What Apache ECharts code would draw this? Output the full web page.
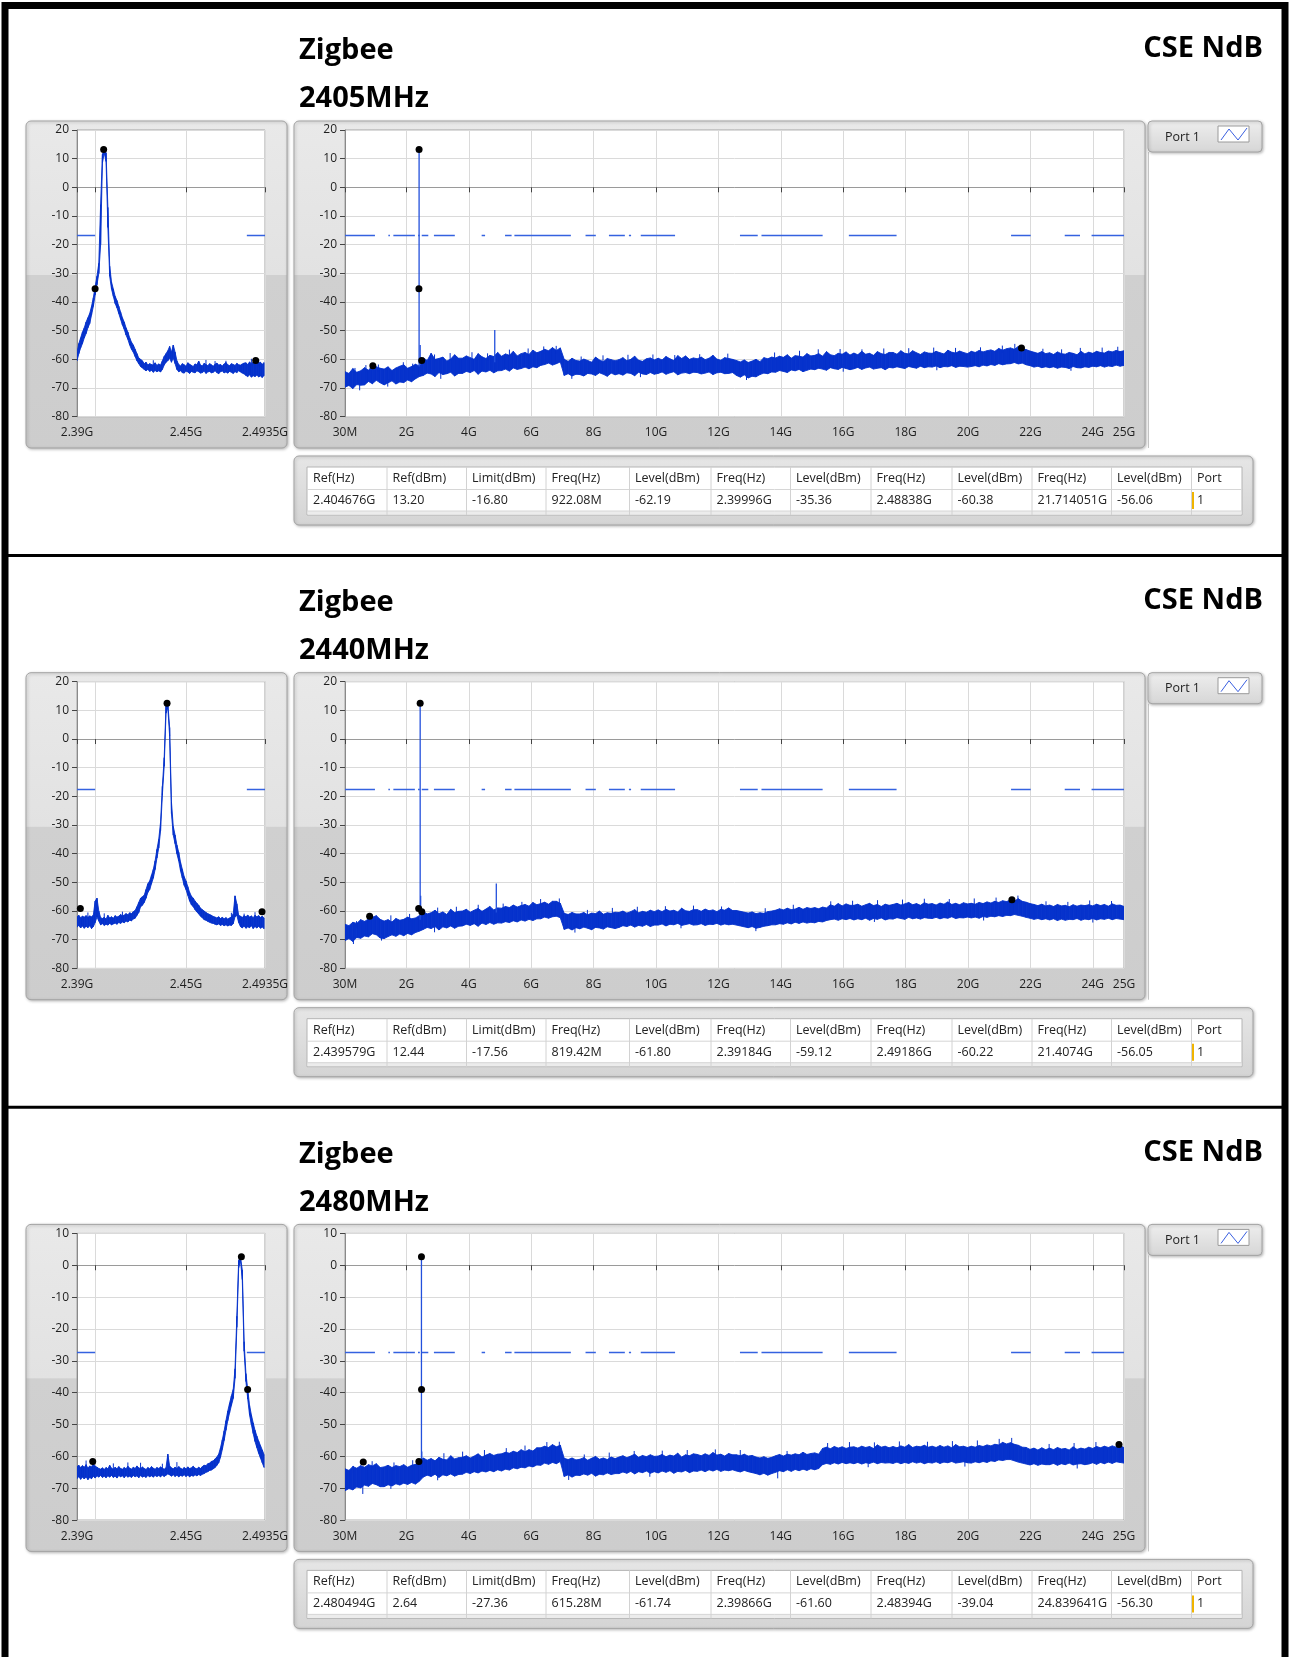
<!DOCTYPE html>
<html><head><meta charset="utf-8">
<script src="https://cdn.jsdelivr.net/npm/echarts@6/dist/echarts.min.js"></script>
<style>html,body{margin:0;padding:0;background:#fff;overflow:hidden}#c{width:1292px;height:1657px}</style>
</head><body><div id="c"></div>
<script>
// ---------------- DATA ----------------
const channelLabels = ['2405MHz', '2440MHz', '2480MHz'];
const techLabel = 'Zigbee';
const sideLabel = 'CSE NdB';
const portLabel = 'Port 1';
const limitLevels = [-16.80, -17.56, -27.36];
const yMaxes = [20, 20, 10];
const yMin = -80;

const smallTickValues = [2.39, 2.4, 2.45, 2.4935];
const smallLabelValues = [2.39, 2.45, 2.4935];
const smallLabelText = ['2.39G', '2.45G', '2.4935G'];
const mainTickValues = [0.03, 2, 4, 6, 8, 10, 12, 14, 16, 18, 20, 22, 24, 25];
const mainTickLabels = ['30M', '2G', '4G', '6G', '8G', '10G', '12G', '14G', '16G', '18G', '20G', '22G', '24G', '25G'];

const smallStartGHz = 2.39, smallStepGHz = 0.001;
const mainStartGHz = 0.03, mainStopGHz = 25;

const limitSegmentsGHz = [[0.03,0.99],[1.42,1.47],[1.58,2.27],[2.37,2.43],[2.49,2.70],[2.88,3.55],[4.41,4.52],[5.16,5.37],[5.46,7.27],[7.74,8.07],[8.49,9.0],[9.13,9.2],[9.51,10.61],[12.69,13.26],[13.38,15.34],[16.18,17.71],[21.38,22.01],[23.1,23.59],[23.96,25.0]];
const smallLimitSegmentsGHz = [[2.39, 2.4], [2.4835, 2.4935]];

const tableHeader = ['Ref(Hz)','Ref(dBm)','Limit(dBm)','Freq(Hz)','Level(dBm)','Freq(Hz)','Level(dBm)','Freq(Hz)','Level(dBm)','Freq(Hz)','Level(dBm)','Port'];
const tableRows = [
  ['2.404676G','13.20','-16.80','922.08M','-62.19','2.39996G','-35.36','2.48838G','-60.38','21.714051G','-56.06','1'],
  ['2.439579G','12.44','-17.56','819.42M','-61.80','2.39184G','-59.12','2.49186G','-60.22','21.4074G','-56.05','1'],
  ['2.480494G','2.64','-27.36','615.28M','-61.74','2.39866G','-61.60','2.48394G','-39.04','24.839641G','-56.30','1']
];

const markers1 = [[0.92208,-62.19],[2.39996,-35.36],[2.404676,13.20],[2.48838,-60.38],[21.714051,-56.06]];
const markers2 = [[0.81942,-61.80],[2.39184,-59.12],[2.439579,12.44],[2.49186,-60.22],[21.4074,-56.05]];
const markers3 = [[0.61528,-61.74],[2.39866,-61.60],[2.480494,2.64],[2.48394,-39.04],[24.839641,-56.30]];

// spikes: [freqGHz, base dBm, top dBm]
const spikes1 = [[2.405,-62.5,13.2],[2.44,-62,-55],[4.83,-61,-49.8]];
const spikes2 = [[2.4396,-63,12.44],[2.455,-62,-54.7],[4.88,-60.5,-50.4]];
const spikes3 = [[2.4805,-62,2.64],[2.49,-61,-58.5]];

// narrow noise peaks sticking out of the band: [freqGHz, dBm]
const noiseUp1 = [[0.35,-63.0],[0.7,-62.0],[1.1,-61.8],[1.9,-61.0],[2.2,-61.5],[2.9,-58.3],[3.4,-57.8],[4.1,-57.5],[4.6,-57.9],[5.3,-56.6],[5.9,-56.2],[6.4,-55.5],[6.8,-55.3],[7.6,-59.0],[8.3,-58.6],[9.1,-58.4],[9.9,-58.3],[10.6,-58.5],[11.4,-58.2],[12.3,-58.0],[13.8,-57.6],[14.6,-57.0],[15.2,-56.5],[15.9,-56.4],[16.6,-56.5],[17.3,-56.2],[18.1,-56.1],[18.9,-55.9],[19.6,-56.0],[20.4,-55.8],[21.1,-55.2],[21.5,-54.6],[22.4,-56.3],[23.0,-56.5],[23.6,-56.0],[24.3,-55.9],[24.8,-55.6]];
const noiseDown1 = [[0.5,-70.8],[1.4,-69.5],[3.1,-66.8],[7.3,-66.8],[9.5,-66.2],[12.9,-67.2],[16.0,-64.3],[19.0,-63.8],[23.3,-64.0]];
const noiseUp2 = [[0.4,-63.5],[0.8,-61.0],[1.5,-61.5],[2.1,-61.0],[3.0,-58.8],[3.6,-58.5],[4.3,-57.8],[5.1,-57.4],[5.7,-56.8],[6.3,-55.8],[6.9,-55.6],[7.8,-59.6],[8.6,-58.9],[9.4,-58.5],[10.3,-58.3],[11.2,-58.1],[12.1,-58.4],[13.5,-59.0],[14.4,-57.8],[15.6,-56.6],[16.3,-56.4],[17.1,-56.2],[17.9,-56.0],[18.6,-55.7],[19.4,-55.8],[20.2,-55.6],[20.9,-55.3],[21.6,-54.6],[22.5,-56.6],[23.2,-56.8],[23.9,-56.3],[24.6,-56.5]];
const noiseDown2 = [[0.3,-71.5],[1.2,-70.3],[2.9,-67.4],[7.4,-67.5],[10.8,-66.0],[13.2,-67.0],[17.0,-63.8],[20.5,-63.3],[24.0,-64.0]];
const noiseUp3 = [[0.3,-63.0],[0.9,-61.5],[1.6,-61.9],[2.2,-61.2],[3.2,-59.0],[3.8,-58.5],[4.5,-58.0],[5.2,-57.4],[5.8,-56.6],[6.5,-55.5],[6.9,-55.4],[7.7,-59.4],[8.5,-58.8],[9.3,-58.3],[10.2,-58.2],[11.0,-58.0],[11.9,-57.8],[12.7,-58.0],[14.2,-58.3],[15.5,-55.8],[16.2,-55.5],[17.0,-55.6],[17.8,-55.3],[18.7,-55.4],[19.5,-55.2],[20.3,-55.0],[21.0,-54.5],[21.4,-54.2],[22.6,-56.1],[23.4,-55.8],[24.1,-55.5]];
const noiseDown3 = [[0.6,-71.8],[1.5,-70.2],[3.0,-67.5],[7.2,-67.4],[9.8,-66.4],[13.9,-66.9],[16.8,-63.4],[19.9,-63.2],[23.5,-63.8]];
const smallNoiseUp1 = [[2.432,-60.3],[2.461,-60.2],[2.466,-60.6],[2.472,-60.5],[2.486,-59.8],[2.49,-60.0]];
const smallNoiseUp2 = [[2.396,-60.5],[2.405,-60.8],[2.415,-60.2],[2.475,-60.6],[2.482,-60.9],[2.488,-60.4]];
const smallNoiseUp3 = [[2.395,-61.3],[2.41,-62.2],[2.418,-61.9],[2.425,-62.0],[2.437,-62.3],[2.445,-61.8]];

// small (zoom) traces, 1 MHz bins from 2.390 GHz
const small1Lo = [-60.5,-58.0,-56.0,-54.5,-52.5,-51.0,-49.0,-47.5,-44.5,-41.5,-37.5,-34.0,-30.0,-20.0,8.5,12.0,9.0,-14.0,-31.0,-35.5,
-38.0,-40.5,-42.0,-44.0,-46.0,-48.0,-49.5,-51.5,-53.0,-55.0,-56.5,-57.5,-59.0,-60.5,-61.5,-62.5,-63.0,-63.5,-64.0,-63.5,
-64.2,-63.8,-64.5,-63.9,-64.3,-64.0,-64.4,-63.5,-62.0,-61.0,-60.5,-59.5,-61.0,-59.5,-61.5,-63.5,
-64.3,-64.0,-64.6,-64.8,-64.1,-64.4,-64.9,-64.2,-64.5,-64.7,-64.0,-64.3,-64.8,-64.6,-64.1,-64.9,-64.4,-64.2,-64.7,-64.5,
-64.0,-64.6,-65.0,-64.3,-64.1,-64.7,-64.4,-64.8,-64.2,-64.5,-64.9,-64.3,-64.6,-64.0,-64.4,-64.8,-65.1,
-65.6,-66.0,-65.4,-66.2,-65.7,-66.0,-65.5,-66.1,-65.8,-66.3,-65.6];
const small1Hi = [-57.5,-54.5,-52.5,-50.5,-49.0,-47.0,-45.5,-44.0,-41.5,-38.5,-34.5,-31.0,-26.5,-6.0,11.5,13.2,12.0,-7.0,-27.5,-33.0,
-35.5,-38.0,-39.5,-41.5,-43.5,-45.5,-47.0,-49.0,-50.5,-52.5,-54.0,-55.0,-56.5,-58.0,-59.5,-60.0,-60.5,-61.5,-61.0,-62.0,
-61.5,-61.8,-62.0,-61.2,-62.1,-61.6,-62.0,-60.5,-59.0,-58.0,-57.0,-55.5,-57.5,-55.0,-57.5,-60.5,
-61.8,-62.3,-61.5,-61.9,-62.4,-61.2,-61.7,-62.1,-62.5,-61.6,-61.9,-60.6,-62.0,-62.3,-61.4,-61.8,-62.2,-61.5,-61.9,-62.4,
-61.7,-61.3,-62.0,-61.8,-62.3,-61.6,-61.1,-61.9,-62.2,-61.5,-61.8,-62.1,-61.4,-61.9,-62.0,-61.6,-61.3,
-61.2,-61.8,-60.9,-61.5,-61.0,-61.6,-60.8,-61.3,-61.0,-61.7,-61.1];

const small2Lo = [-65.6,-65.0,-65.9,-65.2,-66.0,-65.3,-65.8,-65.1,-66.1,-65.4,-64.0,-62.0,-63.5,-64.8,-64.4,-65.0,-64.6,-64.9,-64.3,-64.8,
-64.5,-64.2,-64.6,-64.0,-64.3,-63.8,-64.1,-63.5,-63.8,-63.2,-63.4,-62.8,-62.5,-61.5,-60.5,-58.5,-58.0,-57.0,-55.5,-53.5,
-52.5,-50.5,-48.5,-45.5,-41.5,-38.0,-32.0,-19.5,-9.5,9.0,11.0,1.0,-26.0,-33.5,-36.5,-40.0,-42.5,-46.0,-48.5,-51.0,
-52.5,-54.5,-56.5,-57.8,-58.5,-59.5,-60.3,-61.0,-61.8,-62.3,-63.0,-63.2,-63.6,-63.9,-64.2,-64.3,-64.6,-64.8,-64.5,-65.0,
-64.7,-65.1,-64.8,-65.2,-64.9,-65.0,-64.4,-62.0,-61.5,-64.0,-65.4,-65.9,-65.2,-66.0,-65.5,-65.8,-65.1,-66.1,-65.4,-65.9,
-65.3,-66.0,-65.6,-66.2];
const small2Hi = [-62.0,-61.5,-62.3,-61.8,-62.1,-61.6,-62.2,-61.7,-62.0,-61.4,-56.5,-55.5,-60.0,-62.3,-62.6,-62.2,-62.8,-61.5,-62.4,-62.0,
-62.5,-61.6,-62.1,-61.8,-61.2,-61.7,-61.4,-60.9,-61.3,-60.6,-60.9,-60.2,-59.8,-58.5,-57.0,-55.5,-55.0,-54.5,-52.5,-50.5,
-49.5,-47.5,-45.5,-42.5,-38.5,-35.0,-29.0,-16.5,-6.5,11.5,12.44,4.0,-22.0,-30.5,-33.5,-37.0,-39.5,-43.0,-45.5,-48.0,
-49.5,-51.5,-53.5,-54.8,-55.5,-56.5,-57.3,-58.0,-59.0,-59.5,-60.0,-60.5,-60.9,-61.2,-61.5,-61.9,-62.1,-62.4,-62.0,-62.6,
-62.2,-62.7,-62.3,-62.8,-62.4,-62.1,-61.0,-54.7,-57.5,-61.5,-61.8,-62.2,-61.6,-62.0,-61.4,-62.1,-61.7,-62.3,-61.5,-62.0,
-61.6,-62.2,-61.8,-62.4];

const small3Lo = [-67.0,-66.3,-67.2,-66.5,-67.1,-66.4,-67.3,-66.6,-67.0,-66.2,-66.8,-66.1,-66.5,-66.0,-66.6,-66.2,-66.7,-66.1,-66.5,-66.0,
-66.6,-66.2,-66.8,-66.0,-66.4,-66.1,-66.7,-66.0,-66.5,-66.2,-66.6,-66.0,-66.4,-66.1,-66.7,-66.0,-66.5,-66.2,-66.6,-66.0,
-66.4,-66.1,-66.5,-66.0,-66.3,-66.0,-66.4,-65.9,-66.3,-65.9,-65.5,-65.8,-66.2,-65.8,-66.3,-65.9,-66.4,-66.0,-66.2,-65.8,
-66.3,-65.9,-66.4,-66.0,-66.2,-65.8,-66.1,-65.7,-66.0,-65.6,-65.4,-65.0,-64.8,-64.4,-64.3,-63.9,-63.5,-62.8,-62.0,-60.3,
-57.8,-55.0,-51.8,-48.8,-46.3,-44.0,-41.8,-35.5,-19.5,-0.8,1.5,-4.5,-27.0,-36.5,-42.0,-47.0,-50.0,-52.8,-55.3,-57.2,
-59.0,-60.5,-62.0,-63.5];
const small3Hi = [-63.2,-62.8,-63.5,-62.9,-63.4,-62.6,-63.7,-63.0,-63.3,-62.2,-63.1,-63.4,-63.8,-64.0,-63.6,-64.1,-63.5,-63.9,-62.8,-63.7,
-64.0,-63.4,-63.9,-63.2,-63.8,-64.0,-63.5,-63.9,-63.1,-63.7,-64.0,-63.4,-63.8,-63.0,-63.6,-63.9,-63.3,-63.8,-64.1,-63.5,
-63.9,-63.2,-63.7,-64.0,-63.5,-63.8,-63.3,-63.7,-64.0,-63.6,-59.3,-63.0,-63.6,-63.9,-63.4,-63.8,-63.2,-63.7,-64.0,-63.5,
-63.9,-63.3,-63.8,-63.6,-63.1,-63.7,-63.9,-63.4,-63.8,-63.2,-62.8,-62.9,-62.3,-62.1,-61.6,-61.4,-60.8,-60.2,-59.3,-57.3,
-54.8,-52.0,-48.8,-45.8,-43.3,-41.0,-39.0,-32.5,-16.0,1.5,2.64,-1.5,-24.0,-34.0,-39.0,-44.0,-47.0,-49.5,-51.8,-53.6,
-55.2,-56.6,-58.0,-59.5];

// main (30 MHz - 25 GHz) traces, 200 bins, upper / lower envelope of the noise band
const main1Hi = [
-64.3,-64.9,-63.2,-64.5,-64.0,-62.9,-63.8,-62.2,-62.6,-63.1,
-63.4,-62.6,-63.9,-63.0,-62.4,-61.9,-63.1,-62.5,-61.7,-62.3,
-59.5,-60.4,-57.9,-60.0,-59.7,-59.2,-60.6,-59.9,-58.4,-59.6,
-59.6,-58.8,-59.4,-60.0,-58.0,-59.1,-59.7,-58.6,-59.0,-57.6,
-58.9,-58.1,-58.6,-57.2,-58.8,-58.0,-57.6,-58.3,-56.8,-57.7,
-57.2,-56.5,-57.0,-55.9,-56.9,-56.0,-60.0,-60.7,-59.6,-60.4,
-60.6,-59.9,-60.4,-61.0,-59.2,-60.2,-60.8,-59.7,-60.1,-60.5,
-60.1,-59.4,-60.5,-60.0,-58.9,-60.3,-60.7,-59.8,-59.5,-60.2,
-59.6,-60.2,-59.0,-59.8,-60.4,-58.7,-59.7,-58.8,-60.0,-59.5,
-59.8,-59.2,-60.1,-59.6,-58.6,-59.9,-60.3,-59.4,-59.7,-60.0,
-60.4,-60.9,-60.2,-61.1,-60.6,-60.0,-60.8,-59.4,-59.8,-59.2,
-59.5,-58.9,-59.3,-58.4,-59.6,-58.7,-58.9,-59.2,-58.0,-58.8,
-58.6,-58.0,-58.9,-57.3,-58.4,-58.7,-57.9,-58.2,-57.4,-58.5,
-57.8,-58.4,-57.2,-58.2,-57.9,-58.6,-57.3,-58.0,-58.3,-57.6,
-57.6,-58.2,-57.0,-57.9,-58.1,-57.0,-57.7,-58.3,-57.4,-57.8,
-57.9,-57.2,-57.7,-58.1,-56.8,-57.5,-57.8,-57.1,-57.6,-58.0,
-57.2,-57.6,-56.9,-57.4,-57.0,-56.7,-57.2,-56.2,-56.8,-56.3,
-56.0,-56.5,-55.5,-56.3,-56.6,-57.1,-57.5,-57.9,-57.3,-58.0,
-57.7,-58.3,-57.4,-58.0,-58.2,-57.6,-57.9,-58.4,-57.2,-58.1,
-57.5,-57.9,-57.2,-57.6,-57.8,-57.1,-57.4,-56.9,-57.3,-57.0];
const main1Lo = [
-69.7,-69.1,-70.2,-68.8,-69.0,-68.9,-67.7,-68.5,-67.3,-68.2,
-68.9,-68.2,-67.5,-68.6,-67.9,-68.1,-67.2,-67.8,-66.8,-66.0,
-65.6,-64.8,-65.1,-66.0,-64.6,-65.3,-65.0,-64.5,-65.8,-64.9,
-64.9,-64.2,-64.6,-63.9,-65.2,-64.1,-64.4,-63.8,-64.7,-64.0,
-63.9,-63.4,-64.1,-63.0,-63.5,-63.2,-62.7,-63.3,-62.6,-62.9,
-62.1,-61.8,-61.3,-62.0,-61.5,-60.9,-65.6,-65.0,-65.8,-65.2,
-65.3,-65.8,-64.9,-65.1,-65.6,-64.7,-65.2,-65.9,-64.8,-65.4,
-65.0,-65.5,-64.7,-64.9,-65.7,-64.5,-65.1,-65.3,-64.6,-65.2,
-64.9,-64.4,-65.2,-64.7,-64.3,-65.4,-64.8,-64.6,-65.0,-64.5,
-64.6,-65.1,-64.8,-64.4,-65.3,-64.7,-64.5,-65.0,-64.9,-64.6,
-65.6,-66.2,-65.4,-66.5,-65.9,-66.1,-65.3,-64.8,-65.0,-64.4,
-64.5,-63.9,-64.2,-64.6,-63.7,-64.0,-63.5,-64.3,-63.8,-63.4,
-63.6,-63.1,-63.4,-63.8,-62.9,-63.3,-63.5,-62.8,-63.2,-63.6,
-63.3,-62.8,-63.5,-63.0,-62.7,-63.4,-63.1,-62.9,-63.6,-62.8,
-63.0,-62.6,-62.9,-63.2,-62.5,-62.8,-63.1,-62.4,-62.9,-62.6,
-62.7,-62.3,-62.9,-62.5,-62.6,-62.2,-62.8,-62.4,-62.5,-62.7,
-62.5,-62.2,-62.6,-62.0,-62.3,-61.8,-62.1,-61.5,-61.9,-61.6,
-61.5,-61.1,-61.6,-61.3,-61.9,-62.2,-62.7,-62.4,-62.9,-62.6,
-62.9,-62.6,-63.1,-62.7,-62.8,-63.2,-62.5,-62.9,-63.0,-62.6,
-62.8,-62.4,-62.6,-62.2,-62.7,-62.3,-62.5,-62.0,-62.4,-62.1];

const main2Hi = [
-64.6,-65.1,-63.9,-64.3,-63.0,-63.6,-62.8,-62.2,-61.6,-62.9,
-63.5,-63.0,-63.8,-62.6,-63.2,-62.9,-62.1,-62.7,-62.4,-61.6,
-60.2,-61.0,-60.6,-59.7,-60.9,-60.3,-61.2,-59.4,-60.5,-60.1,
-60.0,-59.4,-60.4,-59.7,-59.1,-60.1,-59.3,-58.4,-59.6,-58.9,
-59.0,-58.4,-58.8,-57.9,-58.6,-58.1,-57.7,-58.3,-57.0,-57.8,
-57.4,-56.9,-57.6,-56.6,-56.6,-57.3,-60.8,-61.2,-60.5,-61.0,
-61.0,-60.5,-61.3,-60.7,-60.9,-60.0,-61.1,-60.6,-60.8,-60.4,
-60.5,-60.0,-60.7,-60.2,-59.5,-60.6,-60.1,-60.4,-59.7,-60.2,
-59.6,-60.2,-59.4,-60.0,-59.7,-60.3,-59.0,-59.9,-60.1,-59.5,
-59.5,-60.1,-59.3,-59.9,-59.6,-60.2,-59.4,-59.7,-58.9,-59.8,
-59.8,-60.1,-60.4,-60.7,-60.3,-60.9,-60.6,-60.8,-60.2,-60.0,
-59.7,-59.2,-59.6,-59.0,-59.5,-59.3,-58.7,-59.4,-58.8,-59.1,
-58.8,-59.2,-58.6,-58.9,-57.8,-58.3,-57.4,-58.2,-57.5,-58.0,
-58.0,-57.6,-58.3,-57.8,-57.3,-58.1,-57.7,-58.4,-57.6,-58.0,
-57.7,-57.3,-57.9,-57.5,-57.0,-57.8,-57.4,-58.0,-57.1,-57.6,
-57.4,-57.9,-57.2,-57.6,-56.8,-57.7,-57.3,-57.8,-57.1,-57.5,
-57.3,-57.6,-57.0,-57.4,-56.8,-57.2,-56.6,-57.0,-56.4,-56.7,
-56.1,-56.5,-55.7,-56.6,-56.9,-57.4,-57.7,-58.1,-57.6,-58.2,
-57.9,-58.4,-57.7,-58.2,-58.0,-58.5,-57.8,-58.3,-57.9,-58.1,
-57.8,-58.2,-57.6,-58.1,-57.7,-58.3,-57.5,-58.0,-57.9,-58.4];
const main2Lo = [
-70.3,-69.6,-70.6,-69.2,-69.5,-68.7,-69.0,-67.9,-68.3,-69.4,
-69.6,-68.9,-68.3,-68.8,-68.0,-68.6,-67.8,-68.3,-67.5,-67.0,
-66.4,-65.7,-66.1,-65.4,-66.6,-65.5,-65.9,-65.2,-66.0,-65.3,
-65.2,-64.6,-65.0,-64.4,-65.3,-64.2,-64.7,-64.0,-64.6,-64.1,
-64.2,-63.7,-64.0,-63.4,-63.8,-63.1,-63.5,-62.9,-63.3,-62.7,
-62.7,-62.1,-62.5,-62.0,-61.8,-62.3,-66.4,-65.9,-66.6,-65.8,
-66.2,-65.6,-66.0,-66.5,-65.7,-65.9,-66.3,-65.5,-65.8,-66.1,
-65.7,-65.1,-65.4,-64.9,-65.6,-65.0,-65.3,-64.7,-65.4,-64.9,
-64.9,-64.5,-65.2,-64.6,-64.8,-64.3,-65.0,-64.7,-64.4,-64.9,
-64.8,-64.4,-65.0,-64.6,-64.7,-64.3,-64.9,-64.5,-64.8,-64.6,
-64.9,-65.2,-65.5,-65.8,-65.4,-66.0,-65.7,-65.3,-65.1,-64.8,
-64.8,-64.4,-64.6,-64.1,-64.5,-63.9,-64.3,-63.8,-64.2,-63.9,
-64.1,-63.6,-63.8,-63.3,-63.0,-62.8,-63.2,-62.7,-63.0,-62.6,
-63.1,-62.7,-63.0,-62.5,-63.2,-62.6,-62.9,-62.4,-63.1,-62.7,
-62.8,-62.3,-62.6,-62.9,-62.2,-62.7,-62.4,-62.8,-62.3,-62.5,
-62.6,-62.2,-62.7,-62.3,-62.5,-62.0,-62.6,-62.3,-62.4,-62.1,
-62.4,-62.1,-62.5,-61.9,-62.2,-61.8,-62.0,-61.6,-61.9,-61.5,
-61.6,-61.2,-61.5,-61.8,-62.2,-62.5,-62.9,-62.6,-63.0,-62.7,
-63.1,-62.7,-63.3,-62.8,-63.2,-62.9,-63.0,-62.6,-63.2,-62.8,
-63.0,-62.6,-63.1,-62.7,-62.9,-62.5,-63.0,-62.6,-62.8,-63.0];

const main3Hi = [
-63.9,-64.4,-63.2,-63.7,-62.9,-63.4,-62.6,-63.0,-62.3,-63.5,
-63.3,-62.8,-63.5,-62.9,-63.2,-62.6,-63.4,-62.8,-62.5,-62.0,
-60.5,-61.2,-60.7,-61.4,-60.3,-60.9,-61.1,-59.8,-60.8,-60.4,
-60.3,-59.8,-60.5,-59.9,-59.2,-60.2,-59.6,-59.1,-59.7,-59.3,
-59.2,-58.7,-59.0,-58.4,-58.8,-57.9,-58.5,-57.9,-58.3,-57.3,
-57.3,-56.8,-57.2,-56.3,-57.0,-56.5,-60.6,-61.0,-60.5,-61.1,
-60.9,-60.4,-61.2,-60.6,-60.0,-60.9,-60.5,-61.0,-60.2,-60.7,
-60.2,-59.8,-60.4,-59.9,-59.3,-60.3,-59.7,-60.1,-59.5,-60.0,
-59.9,-59.4,-60.1,-59.6,-59.9,-59.0,-60.2,-59.5,-59.8,-59.2,
-59.4,-59.8,-59.2,-59.7,-58.8,-59.6,-59.3,-59.9,-59.1,-59.5,
-59.5,-59.8,-59.3,-59.9,-59.7,-60.2,-60.5,-60.1,-60.6,-60.3,
-59.8,-59.4,-59.9,-59.3,-59.6,-59.2,-59.5,-58.7,-59.4,-59.1,
-58.9,-59.3,-57.5,-57.1,-57.6,-56.9,-57.4,-57.0,-57.5,-57.1,
-57.0,-57.4,-56.8,-57.2,-56.9,-57.5,-56.4,-57.1,-56.8,-57.3,
-56.9,-57.3,-56.7,-57.1,-56.3,-57.2,-56.8,-57.0,-56.5,-57.1,
-56.8,-57.2,-56.6,-57.1,-56.7,-57.3,-56.3,-57.0,-56.8,-57.2,
-56.8,-57.1,-56.6,-56.9,-56.4,-56.7,-56.2,-56.4,-55.6,-56.1,
-55.7,-56.2,-56.5,-57.1,-57.2,-57.8,-57.4,-58.0,-57.3,-57.9,
-57.4,-57.9,-57.2,-57.7,-57.5,-58.0,-57.0,-57.8,-57.4,-57.7,
-57.1,-57.5,-56.9,-57.3,-56.8,-57.2,-56.7,-57.1,-56.5,-57.3];
const main3Lo = [
-70.8,-70.1,-70.5,-69.6,-69.9,-69.0,-69.4,-68.5,-68.9,-69.5,
-69.5,-68.9,-69.3,-68.6,-69.0,-68.4,-68.8,-68.2,-68.7,-67.8,
-66.5,-65.9,-66.3,-65.6,-66.6,-65.8,-66.1,-65.5,-66.2,-65.7,
-65.6,-65.0,-65.4,-64.8,-65.2,-64.6,-64.9,-64.4,-64.8,-64.2,
-64.6,-64.0,-64.3,-63.6,-63.9,-63.4,-63.6,-63.0,-63.3,-62.7,
-62.8,-62.1,-62.5,-61.9,-62.3,-61.6,-66.3,-65.8,-66.5,-65.9,
-66.0,-65.5,-65.9,-65.3,-66.2,-65.6,-65.8,-65.2,-65.7,-65.4,
-65.4,-64.9,-65.3,-64.7,-65.5,-64.8,-65.1,-64.6,-65.3,-64.8,
-65.2,-64.6,-65.0,-64.5,-65.3,-64.7,-64.9,-64.4,-65.1,-64.6,
-64.7,-64.3,-64.8,-64.2,-64.6,-64.1,-64.7,-64.3,-64.5,-64.2,
-64.6,-64.9,-64.4,-64.8,-65.1,-65.4,-65.8,-65.3,-65.9,-65.4,
-65.0,-64.5,-64.8,-64.2,-64.7,-64.1,-64.5,-64.0,-64.4,-63.9,
-64.2,-63.8,-62.6,-62.2,-62.5,-62.0,-62.4,-61.9,-62.3,-62.0,
-62.3,-61.9,-62.4,-62.0,-62.2,-61.8,-62.3,-61.9,-62.1,-62.0,
-62.2,-61.8,-62.3,-61.9,-62.2,-61.7,-62.1,-61.8,-62.3,-61.9,
-62.1,-61.7,-62.2,-61.8,-62.0,-61.6,-62.1,-61.9,-61.7,-62.0,
-62.1,-61.7,-62.0,-61.6,-61.9,-61.4,-61.6,-61.1,-61.3,-61.0,
-61.0,-61.4,-61.8,-62.1,-62.4,-62.7,-62.3,-62.8,-62.4,-62.6,
-62.6,-62.2,-62.8,-62.3,-62.6,-62.1,-62.7,-62.4,-62.3,-62.6,
-62.4,-62.0,-62.5,-61.9,-62.3,-61.8,-62.2,-61.7,-61.9,-62.1];

// ---------------- LAYOUT / STYLE ----------------
const TRACE = '#0632cc';
const SPIKE = '#2350dc';
const LIMIT = '#3462e0';
const FONT = '"Open Sans", "DejaVu Sans", sans-serif';
const OFF = [0, 551.7, 1103.4];
const HAIR_DB = 2.5; // length of a noise hairline into the band

const sections = [
  {small: [small1Lo, small1Hi], main: [main1Lo, main1Hi], markers: markers1, spikes: spikes1, up: noiseUp1, down: noiseDown1, sup: smallNoiseUp1},
  {small: [small2Lo, small2Hi], main: [main2Lo, main2Hi], markers: markers2, spikes: spikes2, up: noiseUp2, down: noiseDown2, sup: smallNoiseUp2},
  {small: [small3Lo, small3Hi], main: [main3Lo, main3Hi], markers: markers3, spikes: spikes3, up: noiseUp3, down: noiseDown3, sup: smallNoiseUp3}
];

function labelFor(values, texts, v) {
  for (let i = 0; i < values.length; i++) if (Math.abs(values[i] - v) < 1e-6) return texts[i];
  return '';
}

function bandSeries(axisIdx, freqs, lo, hi) {
  const data = freqs.map((f, i) => [f, lo[i], hi[i]]);
  return {
    type: 'custom', xAxisIndex: axisIdx, yAxisIndex: axisIdx, silent: true, clip: true, z: 3,
    encode: {x: 0, y: [1, 2]},
    data: data,
    renderItem: function (params, api) {
      const i = params.dataIndex;
      if (i >= data.length - 1) return null;
      const a = data[i], b = data[i + 1];
      const pts = [api.coord([a[0], a[2]]), api.coord([b[0], b[2]]), api.coord([b[0], b[1]]), api.coord([a[0], a[1]])];
      return {type: 'polygon', shape: {points: pts}, style: {fill: TRACE, stroke: TRACE, lineWidth: 0.9}};
    }
  };
}

function hairSeries(axisIdx, up, down) {
  const d = [];
  up.forEach(p => { d.push([p[0], p[1] - HAIR_DB]); d.push([p[0], p[1]]); d.push([p[0], null]); });
  down.forEach(p => { d.push([p[0], p[1] + HAIR_DB]); d.push([p[0], p[1]]); d.push([p[0], null]); });
  return {type: 'line', xAxisIndex: axisIdx, yAxisIndex: axisIdx, data: d, symbol: 'none', silent: true,
    connectNulls: false, lineStyle: {color: TRACE, width: 1}, z: 3, animation: false};
}

function limitSeries(axisIdx, segs, level) {
  const d = [];
  segs.forEach(s => { d.push([s[0], level]); d.push([s[1], level]); d.push([s[1], null]); });
  return {type: 'line', xAxisIndex: axisIdx, yAxisIndex: axisIdx, data: d, symbol: 'none', silent: true,
    connectNulls: false, lineStyle: {color: LIMIT, width: 1.5}, z: 4, animation: false};
}

function markerSeries(axisIdx, pts) {
  return {type: 'scatter', xAxisIndex: axisIdx, yAxisIndex: axisIdx, data: pts, symbolSize: 7, silent: true,
    itemStyle: {color: '#000', opacity: 1}, z: 6, animation: false};
}

const grids = [], xAxes = [], yAxes = [], series = [], elements = [];

const axisLabelStyle = {fontSize: 12, color: '#1e1e1e', fontFamily: FONT};
const splitStyle = {show: true, lineStyle: {color: '#dadada', width: 1}};

sections.forEach((sec, k) => {
  const o = OFF[k];
  const si = 2 * k, mi = 2 * k + 1;
  grids.push({left: 77, top: 130 + o, width: 188, height: 286.7, show: true, backgroundColor: '#ffffff', borderColor: '#a2a2a2', borderWidth: 1});
  grids.push({left: 345, top: 130 + o, width: 779, height: 286.7, show: true, backgroundColor: '#ffffff', borderColor: '#a2a2a2', borderWidth: 1});

  xAxes.push({gridIndex: si, type: 'value', min: 2.39, max: 2.4935,
    axisLine: {show: true, lineStyle: {color: '#9a9a9a'}},
    axisTick: {show: true, length: 5, customValues: smallTickValues, lineStyle: {color: '#444'}},
    axisLabel: Object.assign({margin: 10, customValues: smallLabelValues, formatter: v => labelFor(smallLabelValues, smallLabelText, v)}, axisLabelStyle),
    splitLine: splitStyle});
  xAxes.push({gridIndex: mi, type: 'value', min: mainStartGHz, max: mainStopGHz,
    axisLine: {show: true, lineStyle: {color: '#9a9a9a'}},
    axisTick: {show: true, length: 5, customValues: mainTickValues, lineStyle: {color: '#444'}},
    axisLabel: Object.assign({margin: 10, customValues: mainTickValues, formatter: v => labelFor(mainTickValues, mainTickLabels, v)}, axisLabelStyle),
    splitLine: splitStyle});
  [si, mi].forEach(g => yAxes.push({gridIndex: g, type: 'value', min: yMin, max: yMaxes[k], interval: 10,
    axisLine: {show: true, lineStyle: {color: '#8a8a8a'}},
    axisTick: {show: true, length: 5, lineStyle: {color: '#444'}},
    axisLabel: Object.assign({margin: 8}, axisLabelStyle),
    splitLine: splitStyle}));

  const sLo = sec.small[0], sHi = sec.small[1];
  const sFreq = sLo.map((_, i) => smallStartGHz + smallStepGHz * i);
  series.push(bandSeries(si, sFreq, sLo, sHi));
  series.push(hairSeries(si, sec.sup, []));
  series.push(limitSeries(si, smallLimitSegmentsGHz, limitLevels[k]));
  series.push(markerSeries(si, sec.markers.filter(p => p[0] >= 2.39 && p[0] <= 2.4935)));

  const mLo = sec.main[0], mHi = sec.main[1];
  const n = mLo.length;
  const mFreq = mLo.map((_, i) => mainStartGHz + (mainStopGHz - mainStartGHz) * i / (n - 1));
  series.push(bandSeries(mi, mFreq, mLo, mHi));
  series.push(hairSeries(mi, sec.up, sec.down));
  sec.spikes.forEach(sp => series.push({type: 'line', xAxisIndex: mi, yAxisIndex: mi, symbol: 'none', silent: true,
    data: [[sp[0], sp[1]], [sp[0], sp[2]]], lineStyle: {color: SPIKE, width: 1.3}, z: 4, animation: false}));
  series.push(limitSeries(mi, limitSegmentsGHz, limitLevels[k]));
  series.push(markerSeries(mi, sec.markers));

  // ---- decorations ----
  const panelFill = {type: 'linear', x: 0, y: 0, x2: 0, y2: 1, colorStops: [
    {offset: 0, color: '#e9e9e9'}, {offset: 0.47, color: '#e2e2e2'}, {offset: 0.472, color: '#d0d0d0'}, {offset: 1, color: '#cdcdcd'}]};
  const shadow = {shadowBlur: 3, shadowColor: 'rgba(0,0,0,0.25)', shadowOffsetX: 1, shadowOffsetY: 1};
  elements.push({type: 'rect', z: -10, shape: {x: 26, y: 121 + o, width: 261, height: 327, r: 5},
    style: Object.assign({fill: panelFill, stroke: '#a4a4a4', lineWidth: 1}, shadow)});
  elements.push({type: 'rect', z: -10, shape: {x: 294, y: 121 + o, width: 851, height: 327, r: 5},
    style: Object.assign({fill: panelFill, stroke: '#a4a4a4', lineWidth: 1}, shadow)});

  elements.push({type: 'text', z: 10, style: {text: techLabel, x: 299, y: 51 + o, font: 'bold 29px ' + FONT, fill: '#000', align: 'left', verticalAlign: 'middle', textAlign: 'left', textVerticalAlign: 'middle'}});
  elements.push({type: 'text', z: 10, style: {text: channelLabels[k], x: 299, y: 99 + o, font: 'bold 29px ' + FONT, fill: '#000', align: 'left', verticalAlign: 'middle', textAlign: 'left', textVerticalAlign: 'middle'}});
  elements.push({type: 'text', z: 10, style: {text: sideLabel, x: 1263, y: 49 + o, font: 'bold 29px ' + FONT, fill: '#000', align: 'right', verticalAlign: 'middle', textAlign: 'right', textVerticalAlign: 'middle'}});

  elements.push({type: 'line', z: -9, shape: {x1: 1148.5, y1: 152 + o, x2: 1148.5, y2: 448 + o}, style: {stroke: '#c4c4c4', lineWidth: 1}});
  elements.push({type: 'rect', z: -9, shape: {x: 1148, y: 121 + o, width: 114, height: 31, r: 4},
    style: Object.assign({fill: {type: 'linear', x: 0, y: 0, x2: 0, y2: 1, colorStops: [{offset: 0, color: '#eeeeee'}, {offset: 1, color: '#d6d6d6'}]}, stroke: '#a4a4a4', lineWidth: 1}, shadow)});
  elements.push({type: 'text', z: 10, style: {text: portLabel, x: 1165, y: 137 + o, font: '12.5px ' + FONT, fill: '#222', align: 'left', verticalAlign: 'middle', textAlign: 'left', textVerticalAlign: 'middle'}});
  elements.push({type: 'rect', z: 10, shape: {x: 1218, y: 126 + o, width: 31, height: 16}, style: {fill: '#fff', stroke: '#9a9a9a', lineWidth: 1}});
  elements.push({type: 'polyline', z: 11, shape: {points: [[1221, 140 + o], [1229, 129 + o], [1238, 140 + o], [1247, 128 + o]]}, style: {stroke: '#3a5fe0', lineWidth: 1, fill: null}});

  const colX = [307, 386.5, 466, 545.5, 629, 710.5, 790, 870.5, 951.5, 1031.5, 1111, 1191, 1242];
  elements.push({type: 'rect', z: -10, shape: {x: 294, y: 456 + o, width: 959, height: 69, r: 5},
    style: Object.assign({fill: {type: 'linear', x: 0, y: 0, x2: 0, y2: 1, colorStops: [{offset: 0, color: '#e6e6e6'}, {offset: 1, color: '#d4d4d4'}]}, stroke: '#a4a4a4', lineWidth: 1}, shadow)});
  elements.push({type: 'rect', z: -9, shape: {x: 307, y: 467 + o, width: 935, height: 48}, style: {fill: '#ffffff', stroke: '#b4b4b4', lineWidth: 1}});
  elements.push({type: 'rect', z: -8, shape: {x: 307.5, y: 511 + o, width: 934, height: 3.5}, style: {fill: '#ececec'}});
  elements.push({type: 'line', z: -8, shape: {x1: 307, y1: 489.5 + o, x2: 1242, y2: 489.5 + o}, style: {stroke: '#d6d6d6', lineWidth: 1}});
  elements.push({type: 'line', z: -8, shape: {x1: 307, y1: 511 + o, x2: 1242, y2: 511 + o}, style: {stroke: '#d6d6d6', lineWidth: 1}});
  for (let c = 1; c < colX.length - 1; c++) {
    elements.push({type: 'line', z: -8, shape: {x1: colX[c] + 0.5, y1: 467 + o, x2: colX[c] + 0.5, y2: 515 + o}, style: {stroke: '#d2d2d2', lineWidth: 1}});
  }
  tableHeader.forEach((h, c) => {
    elements.push({type: 'text', z: 10, style: {text: h, x: colX[c] + 6, y: 478.5 + o, font: '12.5px ' + FONT, fill: '#222', align: 'left', verticalAlign: 'middle', textAlign: 'left', textVerticalAlign: 'middle'}});
    elements.push({type: 'text', z: 10, style: {text: tableRows[k][c], x: colX[c] + 6, y: 500.5 + o, font: '12.5px ' + FONT, fill: '#222', align: 'left', verticalAlign: 'middle', textAlign: 'left', textVerticalAlign: 'middle'}});
  });
  elements.push({type: 'line', z: 11, shape: {x1: 1193, y1: 492 + o, x2: 1193, y2: 509 + o}, style: {stroke: '#f0b400', lineWidth: 2}});
});

elements.push({type: 'rect', z: 20, shape: {x: 5, y: 5.5, width: 1280, height: 1720}, style: {fill: null, stroke: '#000', lineWidth: 7}});
elements.push({type: 'line', z: 20, shape: {x1: 5, y1: 555.5, x2: 1285, y2: 555.5}, style: {stroke: '#000', lineWidth: 3}});
elements.push({type: 'line', z: 20, shape: {x1: 5, y1: 1107.2, x2: 1285, y2: 1107.2}, style: {stroke: '#000', lineWidth: 3}});

const chart = echarts.init(document.getElementById('c'), null, {renderer: 'canvas'});
chart.setOption({
  animation: false,
  backgroundColor: '#ffffff',
  grid: grids, xAxis: xAxes, yAxis: yAxes, series: series,
  graphic: {elements: elements}
});
</script>
</body></html>
